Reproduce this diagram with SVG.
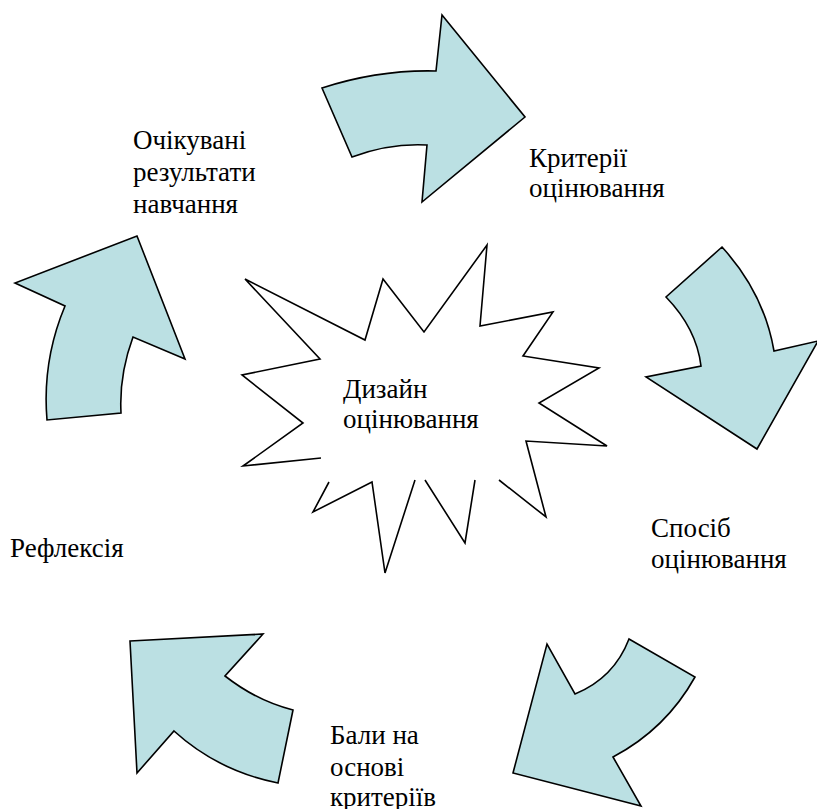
<svg xmlns="http://www.w3.org/2000/svg" width="817" height="809" viewBox="0 0 817 809">
<style>
.arrow{fill:#BBE0E3;stroke:#000;stroke-width:1.6;stroke-linejoin:miter}
.star{fill:none;stroke:#000;stroke-width:1.6;stroke-linejoin:miter}
.lbl{font-family:"Liberation Serif","Times New Roman",serif;font-size:27px;fill:#000}
</style>
<rect width="817" height="809" fill="#fff"/>
<g id="arrows">
<path id="arrow-top" class="arrow" d="M322,88 Q379,69.5 436,71 L442,15 L525,117 L422,202 L427,145 Q389.5,143 352,157 Z"/>
<path id="arrow-right" class="arrow" d="M722,247 Q764,293 774,351 L818,341 L757,449 L646,377 L701,366 Q696.5,328.5 666,297 Z"/>
<path id="arrow-bottom-right" class="arrow" d="M629,639 L695,677 Q666,729 613,757 L641,806 L513,773 L547,644 L575,694 Q614,678 629,639 Z"/>
<path id="arrow-bottom-left" class="arrow" d="M130,641 L263,634 L225,676 Q257,701 293,710 L278,783 Q218,771 174,731 L137,773 Z"/>
<path id="arrow-left" class="arrow" d="M137,236 L185,359 L133,337 Q119,375 121,413 L47,420 Q42,361 65,306 L15,283 Z"/>
</g>
<g id="center">
<polyline class="star" points="321,458 243,466 303,423 242,375 320,359 245,279 365,340 383,279 424,332 487,245 480,326 553,312 523,356 599,368 539,403 607,446 526,441 546,517 499,480"/>
<polyline class="star" points="475,480 465,543 425,480"/>
<polyline class="star" points="329,482 313,512 372,482 385,573 415,480"/>
<text class="lbl" x="343" y="398">Дизайн</text>
<text class="lbl" x="343" y="428">оцінювання</text>
</g>
<g id="node-outcomes">
<text class="lbl" x="133" y="149">Очікувані</text>
<text class="lbl" x="133" y="181">результати</text>
<text class="lbl" x="133" y="213">навчання</text>
</g>
<g id="node-criteria">
<text class="lbl" x="529" y="167">Критерії</text>
<text class="lbl" x="529" y="197">оцінювання</text>
</g>
<g id="node-method">
<text class="lbl" x="651" y="537">Спосіб</text>
<text class="lbl" x="651" y="568">оцінювання</text>
</g>
<g id="node-scores">
<text class="lbl" x="330" y="744">Бали на</text>
<text class="lbl" x="330" y="776">основі</text>
<text class="lbl" x="330" y="806">критеріїв</text>
</g>
<g id="node-reflection">
<text class="lbl" x="10" y="557">Рефлексія</text>
</g>
</svg>
